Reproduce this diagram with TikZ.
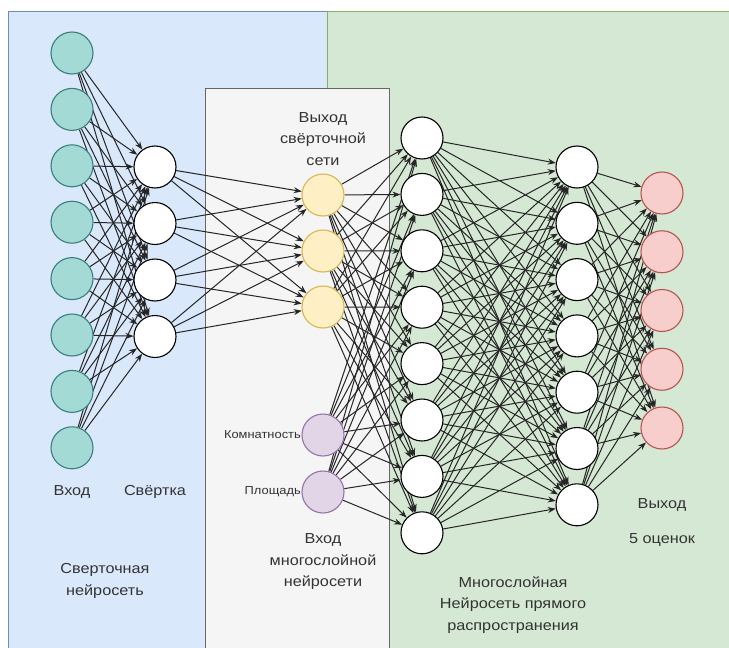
\documentclass[tikz,border=0pt]{standalone}
\usepackage{fontspec}
\setmainfont{Liberation Sans}
\newfontfamily\lblfont[FakeStretch=1.12]{Liberation Sans}
\usetikzlibrary{arrows.meta}
\pgfdeclarelayer{bg}
\pgfdeclarelayer{edges}
\pgfsetlayers{bg,edges,main}
\definecolor{blueF}{HTML}{DAE8FC}\definecolor{blueD}{HTML}{6C8EBF}
\definecolor{greenF}{HTML}{D5E8D4}\definecolor{greenD}{HTML}{82B366}
\definecolor{grayF}{HTML}{F5F5F5}\definecolor{grayD}{HTML}{666666}
\definecolor{tealF}{HTML}{A3DAD5}\definecolor{tealD}{HTML}{3A7F7B}
\definecolor{yelF}{HTML}{FFEFC5}\definecolor{yelD}{HTML}{D6B656}
\definecolor{purF}{HTML}{E1D5E7}\definecolor{purD}{HTML}{9673A6}
\definecolor{pinkF}{HTML}{F8CECC}\definecolor{pinkD}{HTML}{B85450}
\definecolor{txt}{HTML}{333333}
\begin{document}
\begin{tikzpicture}[x=1pt,y=-1pt,
  neuron/.style={circle,draw,line width=1.1pt,minimum size=42pt,inner sep=0pt},
  nin/.style={neuron,fill=tealF,draw=tealD},
  nwhite/.style={neuron,fill=white,draw=black},
  nyel/.style={neuron,fill=yelF,draw=yelD},
  npur/.style={neuron,fill=purF,draw=purD},
  npink/.style={neuron,fill=pinkF,draw=pinkD},
  conn/.style={draw=black!85,line width=1pt,-{Stealth[length=8pt,width=6pt]}},
  lbl/.style={text=txt,font=\lblfont\fontsize{14.5}{21.5}\selectfont,align=center,inner sep=0pt},
  small/.style={text=txt,font=\lblfont\fontsize{11.5}{13}\selectfont,inner sep=1pt}]
\useasboundingbox (0,0) rectangle (729,648);
\begin{pgfonlayer}{bg}
  \fill[white] (0,0) rectangle (729,648);
  \filldraw[fill=blueF,draw=blueD,line width=0.8pt] (8,11) rectangle (327,652);
  \filldraw[fill=greenF,draw=greenD,line width=0.8pt] (327,11) rectangle (733,652);
  \filldraw[fill=grayF,draw=grayD,line width=0.8pt] (205,88) rectangle (389,652);
\end{pgfonlayer}
% nodes
\foreach \i in {1,...,8} \node[nin] (in\i) at (72,{53+56.4*(\i-1)}) {};
\foreach \i in {1,...,4} \node[nwhite] (cv\i) at (155,{167+56.5*(\i-1)}) {};
\foreach \i in {1,...,3} \node[nyel] (y\i) at (323,{195+56*(\i-1)}) {};
\node[npur] (p1) at (323,435) {};
\node[npur] (p2) at (323,492) {};
\foreach \i in {1,...,8} \node[nwhite] (a\i) at (422,{138+56.4*(\i-1)}) {};
\foreach \i in {1,...,7} \node[nwhite] (b\i) at (577,{167+56.3*(\i-1)}) {};
\foreach \i in {1,...,5} \node[npink] (o\i) at (662,{193+58.75*(\i-1)}) {};
% edges
\begin{pgfonlayer}{edges}
  \foreach \i in {1,...,8} \foreach \j in {1,...,4} \draw[conn] (in\i) -- (cv\j);
  \foreach \i in {1,...,4} \foreach \j in {1,...,3} \draw[conn] (cv\i) -- (y\j);
  \foreach \s in {y1,y2,y3,p1,p2} \foreach \j in {1,...,8} \draw[conn] (\s) -- (a\j);
  \foreach \i in {1,...,8} \foreach \j in {1,...,7} \draw[conn] (a\i) -- (b\j);
  \foreach \i in {1,...,7} \foreach \j in {1,...,5} \draw[conn] (b\i) -- (o\j);
\end{pgfonlayer}
% labels
\node[lbl] (tIn) at (72,492) {Вход};
\node[lbl] (tConv) at (155,492) {Свёртка};
\node[small,anchor=east] (tRooms) at (302,435) {Комнатность};
\node[small,anchor=east] (tArea) at (302,492) {Площадь};
\node[lbl] (tConvOut) at (323,139) {Выход\\свёрточной\\сети};
\node[lbl] (tMlpIn) at (323,562) {Вход\\многослойной\\нейросети};
\node[lbl] (tCnn) at (105,581) {Сверточная\\нейросеть};
\node[lbl] (tMlp) at (513,605) {Многослойная\\Нейросеть прямого\\распространения};
\node[lbl] (tOut) at (662,505) {Выход};
\node[lbl] (tFive) at (662,540) {5 оценок};
\end{tikzpicture}
\end{document}
